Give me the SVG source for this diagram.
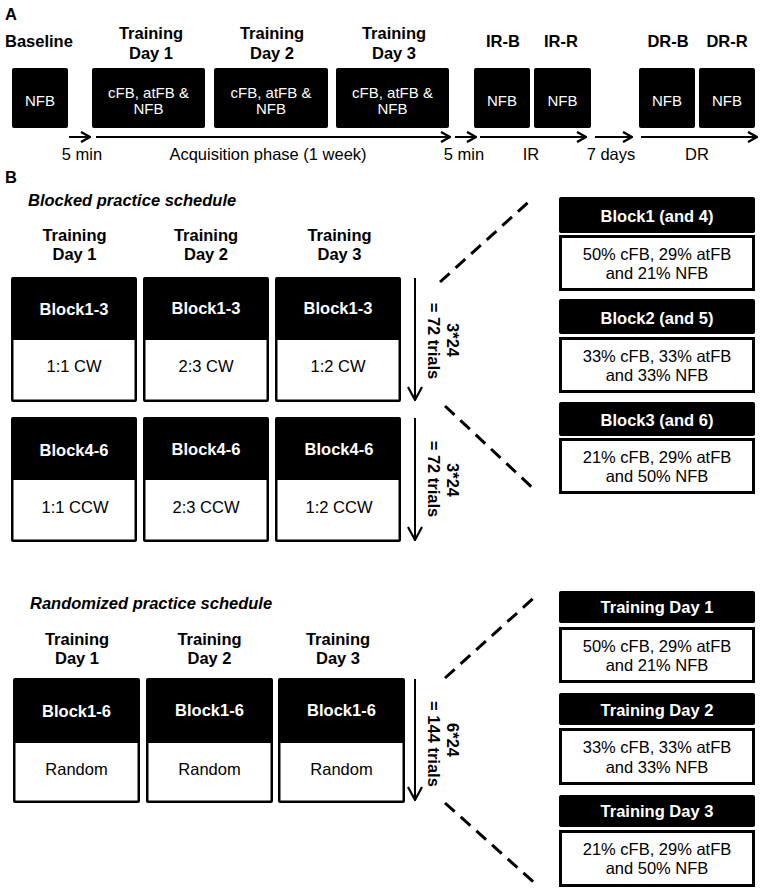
<svg xmlns="http://www.w3.org/2000/svg" width="762" height="892" viewBox="0 0 762 892">
<style>
text{font-family:"Liberation Sans",Arial,sans-serif;fill:#000}
.b{font-weight:bold;font-size:16.5px}
.bi{font-weight:bold;font-style:italic;font-size:16.5px}
.r{font-size:16.5px}
.bx{font-size:15px;fill:#fff;text-anchor:middle}
.wt{fill:#fff;font-weight:bold;font-size:16.5px;text-anchor:middle}
.m{text-anchor:middle}
.blk{fill:#000}
.wbox{fill:#fff;stroke:#000;stroke-width:3}
.arr{stroke:#000;stroke-width:2;fill:none}
.dash{stroke:#000;stroke-width:3;stroke-dasharray:13 8;fill:none}
</style>
<defs>
<marker id="chev" viewBox="0 0 12 12" refX="11" refY="6" markerWidth="12" markerHeight="12" orient="auto" markerUnits="userSpaceOnUse">
<path d="M2,1 L11,6 L2,11" fill="none" stroke="#000" stroke-width="2.4"/>
</marker>
<marker id="vchev" viewBox="0 0 16 16" refX="15" refY="8" markerWidth="16" markerHeight="16" orient="auto" markerUnits="userSpaceOnUse">
<path d="M2,1 L15,8 L2,15" fill="none" stroke="#000" stroke-width="2.2"/>
</marker>
</defs>
<rect width="762" height="892" fill="#fff"/>

<!-- Panel A -->
<g id="panelA-labels">
<text x="5" y="20" class="b" font-size="17">A</text>
<text x="5" y="47" class="b">Baseline</text>
<text x="151" y="39" class="b m">Training</text><text x="151" y="59" class="b m">Day 1</text>
<text x="272" y="39" class="b m">Training</text><text x="272" y="59" class="b m">Day 2</text>
<text x="394" y="39" class="b m">Training</text><text x="394" y="59" class="b m">Day 3</text>
<text x="503" y="47" class="b m">IR-B</text>
<text x="561" y="47" class="b m">IR-R</text>
<text x="668" y="47" class="b m">DR-B</text>
<text x="727" y="47" class="b m">DR-R</text>
<text x="82" y="160" class="r m">5 min</text>
<text x="268" y="160" class="r m">Acquisition phase (1 week)</text>
<text x="464" y="160" class="r m">5 min</text>
<text x="531" y="160" class="r m">IR</text>
<text x="611" y="160" class="r m">7 days</text>
<text x="697" y="160" class="r m">DR</text>
</g>
<g id="a-baseline"><rect x="12" y="68" width="56" height="60" rx="2" class="blk"/><text x="40" y="106" class="bx">NFB</text></g>
<g id="a-day1"><rect x="92" y="68" width="113" height="60" rx="2" class="blk"/><text x="148.5" y="98" class="bx">cFB, atFB &amp;</text><text x="148.5" y="114" class="bx">NFB</text></g>
<g id="a-day2"><rect x="214" y="68" width="114" height="60" rx="2" class="blk"/><text x="271" y="98" class="bx">cFB, atFB &amp;</text><text x="271" y="114" class="bx">NFB</text></g>
<g id="a-day3"><rect x="336" y="68" width="113" height="60" rx="2" class="blk"/><text x="392.5" y="98" class="bx">cFB, atFB &amp;</text><text x="392.5" y="114" class="bx">NFB</text></g>
<g id="a-irb"><rect x="474" y="68" width="56" height="60" rx="2" class="blk"/><text x="502" y="106" class="bx">NFB</text></g>
<g id="a-irr"><rect x="534" y="68" width="57" height="60" rx="2" class="blk"/><text x="562.5" y="106" class="bx">NFB</text></g>
<g id="a-drb"><rect x="639" y="68" width="56" height="60" rx="2" class="blk"/><text x="667" y="106" class="bx">NFB</text></g>
<g id="a-drr"><rect x="699" y="68" width="56" height="60" rx="2" class="blk"/><text x="727" y="106" class="bx">NFB</text></g>

<!-- Panel B labels -->
<g id="panelB-labels">
<text x="5" y="183" class="b" font-size="17">B</text>
<text x="28" y="206" class="bi">Blocked practice schedule</text>
<text x="74.5" y="241" class="b m">Training</text><text x="74.5" y="260" class="b m">Day 1</text>
<text x="206" y="241" class="b m">Training</text><text x="206" y="260" class="b m">Day 2</text>
<text x="339.5" y="241" class="b m">Training</text><text x="339.5" y="260" class="b m">Day 3</text>
<text x="30" y="609" class="bi">Randomized practice schedule</text>
<text x="77" y="645" class="b m">Training</text><text x="77" y="664" class="b m">Day 1</text>
<text x="209.5" y="645" class="b m">Training</text><text x="209.5" y="664" class="b m">Day 2</text>
<text x="338" y="645" class="b m">Training</text><text x="338" y="664" class="b m">Day 3</text>
<g transform="translate(447,340) rotate(90)"><text class="b m" x="0" y="0">3*24</text></g>
<g transform="translate(428,341) rotate(90)"><text class="b m" x="0" y="0">= 72 trials</text></g>
<g transform="translate(447,480) rotate(90)"><text class="b m" x="0" y="0">3*24</text></g>
<g transform="translate(428,479) rotate(90)"><text class="b m" x="0" y="0">= 72 trials</text></g>
<g transform="translate(447,740) rotate(90)"><text class="b m" x="0" y="0">6*24</text></g>
<g transform="translate(428,744) rotate(90)"><text class="b m" x="0" y="0">= 144 trials</text></g>
</g>

<!-- Blocked boxes row 1 -->
<g id="b-r1-d1"><rect x="11" y="277" width="126" height="125" rx="2" class="blk"/><rect x="13.5" y="340" width="121" height="59.5" fill="#fff"/><text x="74" y="315" class="wt">Block1-3</text><text x="74" y="372" class="r m">1:1 CW</text></g>
<g id="b-r1-d2"><rect x="143" y="277" width="126" height="125" rx="2" class="blk"/><rect x="145.5" y="340" width="121" height="59.5" fill="#fff"/><text x="206" y="314" class="wt">Block1-3</text><text x="206" y="372" class="r m">2:3 CW</text></g>
<g id="b-r1-d3"><rect x="275" y="277" width="126" height="125" rx="2" class="blk"/><rect x="277.5" y="340" width="121" height="59.5" fill="#fff"/><text x="338" y="314" class="wt">Block1-3</text><text x="338" y="372" class="r m">1:2 CW</text></g>
<!-- Blocked boxes row 2 -->
<g id="b-r2-d1"><rect x="11" y="417" width="126" height="125" rx="2" class="blk"/><rect x="13.5" y="480" width="121" height="59.5" fill="#fff"/><text x="74" y="456" class="wt">Block4-6</text><text x="75" y="513" class="r m">1:1 CCW</text></g>
<g id="b-r2-d2"><rect x="143" y="417" width="126" height="125" rx="2" class="blk"/><rect x="145.5" y="480" width="121" height="59.5" fill="#fff"/><text x="206" y="455" class="wt">Block4-6</text><text x="206" y="513" class="r m">2:3 CCW</text></g>
<g id="b-r2-d3"><rect x="275" y="417" width="126" height="125" rx="2" class="blk"/><rect x="277.5" y="480" width="121" height="59.5" fill="#fff"/><text x="339" y="455" class="wt">Block4-6</text><text x="339" y="513" class="r m">1:2 CCW</text></g>
<!-- Random boxes -->
<g id="r-d1"><rect x="13" y="678" width="127" height="125" rx="2" class="blk"/><rect x="15.5" y="743" width="122" height="57.5" fill="#fff"/><text x="76.5" y="717" class="wt">Block1-6</text><text x="76.5" y="775" class="r m">Random</text></g>
<g id="r-d2"><rect x="146" y="678" width="127" height="125" rx="2" class="blk"/><rect x="148.5" y="743" width="122" height="57.5" fill="#fff"/><text x="209.5" y="716" class="wt">Block1-6</text><text x="209.5" y="775" class="r m">Random</text></g>
<g id="r-d3"><rect x="278" y="678" width="127" height="125" rx="2" class="blk"/><rect x="280.5" y="743" width="122" height="57.5" fill="#fff"/><text x="341.5" y="716" class="wt">Block1-6</text><text x="341.5" y="775" class="r m">Random</text></g>

<!-- Right side blocked detail -->
<g id="blk1"><rect x="559" y="197" width="196" height="36" rx="2" class="blk"/><text x="657" y="222" class="wt">Block1 (and 4)</text><rect x="560.5" y="236.5" width="193" height="53" class="wbox"/><text x="657" y="260" class="r m">50% cFB, 29% atFB</text><text x="657" y="279" class="r m">and 21% NFB</text></g>
<g id="blk2"><rect x="559" y="299" width="196" height="35" rx="2" class="blk"/><text x="657" y="324" class="wt">Block2 (and 5)</text><rect x="560.5" y="338.5" width="193" height="53" class="wbox"/><text x="657" y="362" class="r m">33% cFB, 33% atFB</text><text x="657" y="381" class="r m">and 33% NFB</text></g>
<g id="blk3"><rect x="559" y="402" width="196" height="34" rx="2" class="blk"/><text x="657" y="426" class="wt">Block3 (and 6)</text><rect x="560.5" y="439.5" width="193" height="53" class="wbox"/><text x="657" y="463" class="r m">21% cFB, 29% atFB</text><text x="657" y="482" class="r m">and 50% NFB</text></g>
<!-- Right side random detail -->
<g id="rnd1"><rect x="559" y="591" width="196" height="32" rx="2" class="blk"/><text x="657" y="613" class="wt">Training Day 1</text><rect x="560.5" y="628.5" width="193" height="53" class="wbox"/><text x="657" y="652" class="r m">50% cFB, 29% atFB</text><text x="657" y="671" class="r m">and 21% NFB</text></g>
<g id="rnd2"><rect x="559" y="693" width="196" height="32" rx="2" class="blk"/><text x="657" y="716" class="wt">Training Day 2</text><rect x="560.5" y="729.5" width="193" height="54" class="wbox"/><text x="657" y="753" class="r m">33% cFB, 33% atFB</text><text x="657" y="773" class="r m">and 33% NFB</text></g>
<g id="rnd3"><rect x="559" y="795" width="196" height="32" rx="2" class="blk"/><text x="657" y="817" class="wt">Training Day 3</text><rect x="560.5" y="831.5" width="193" height="54" class="wbox"/><text x="657" y="855" class="r m">21% cFB, 29% atFB</text><text x="657" y="874" class="r m">and 50% NFB</text></g>

<!-- Connectors -->
<g id="connectors">
<line x1="69" y1="137" x2="90" y2="137" class="arr" marker-end="url(#chev)"/>
<line x1="96" y1="137" x2="450" y2="137" class="arr" marker-end="url(#chev)"/>
<line x1="455" y1="137" x2="476" y2="137" class="arr" marker-end="url(#chev)"/>
<line x1="480" y1="137" x2="586" y2="137" class="arr" marker-end="url(#chev)"/>
<line x1="595" y1="137" x2="632" y2="137" class="arr" marker-end="url(#chev)"/>
<line x1="641" y1="137" x2="757" y2="137" class="arr" marker-end="url(#chev)"/>
<line x1="415" y1="278" x2="415" y2="400" class="arr" marker-end="url(#vchev)"/>
<line x1="415" y1="418" x2="415" y2="540" class="arr" marker-end="url(#vchev)"/>
<line x1="415" y1="679" x2="415" y2="800" class="arr" marker-end="url(#vchev)"/>
<line x1="440" y1="282" x2="533" y2="198" class="dash"/>
<line x1="445" y1="406" x2="537" y2="492" class="dash"/>
<line x1="445" y1="678" x2="537" y2="595" class="dash"/>
<line x1="445" y1="803" x2="537" y2="885" class="dash"/>
</g>
</svg>
